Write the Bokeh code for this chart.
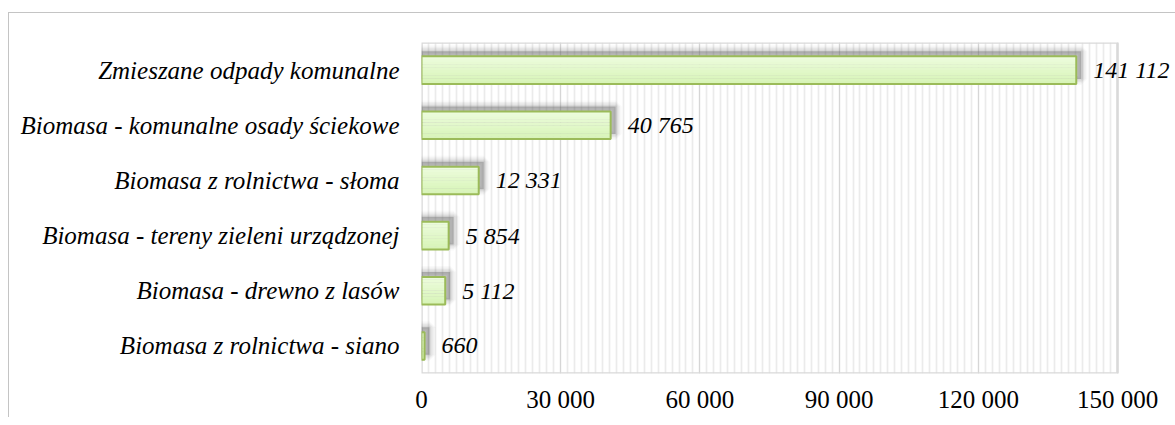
from bokeh.plotting import figure
from bokeh.models import ColumnDataSource, FactorRange, Range1d, SingleIntervalTicker, LabelSet
from bokeh.transform import dodge
from bokeh.embed import file_html
from bokeh.resources import INLINE

# ---- data ----
categories = [
    "Zmieszane odpady komunalne",
    "Biomasa - komunalne osady ściekowe",
    "Biomasa z rolnictwa - słoma",
    "Biomasa - tereny zieleni urządzonej",
    "Biomasa - drewno z lasów",
    "Biomasa z rolnictwa - siano",
]
values = [141112, 40765, 12331, 5854, 5112, 660]
value_labels = ["141 112", "40 765", "12 331", "5 854", "5 112", "660"]
tick_values = [0, 30000, 60000, 90000, 120000, 150000]
tick_labels = ["0", "30 000", "60 000", "90 000", "120 000", "150 000"]

FONT = "Liberation Serif"
AX_MIN, AX_MAX = tick_values[0], tick_values[-1]
PLOT_W = 696          # pixel width of the 0..150 000 axis
FRAME_W = 754         # frame widened so end labels are not clipped
X_END = AX_MAX * FRAME_W / PLOT_W

src = ColumnDataSource(dict(cat=categories, val=values, lab=value_labels))

p = figure(
    frame_width=FRAME_W, frame_height=331,
    y_range=FactorRange(*reversed(categories)),
    x_range=Range1d(AX_MIN, X_END),
    output_backend="svg", toolbar_location=None,
    min_border_left=412, min_border_right=0, min_border_top=29, min_border_bottom=44,
)
p.styles = {"border-left": "1px solid #c4c4c4", "border-top": "1px solid #c4c4c4",
            "margin-top": "12px", "margin-left": "8px"}
p.background_fill_color = "white"
p.border_fill_color = "white"
p.outline_line_color = None

# axes
p.xaxis.ticker = SingleIntervalTicker(interval=30000, num_minor_ticks=20)
p.xaxis.bounds = (AX_MIN, AX_MAX)
p.xaxis.major_label_overrides = {v: l for v, l in zip(tick_values, tick_labels)}
for ax in (p.xaxis, p.yaxis):
    ax.axis_line_color = None
    ax.major_tick_line_color = None
    ax.minor_tick_line_color = None
    ax.major_label_text_font = FONT
    ax.major_label_text_font_size = "25px"
    ax.major_label_text_color = "black"
p.yaxis.major_label_text_font_style = "italic"
p.yaxis.major_label_standoff = 16
p.xaxis.major_label_standoff = 6

p.xgrid.bounds = (AX_MIN, AX_MAX)
p.xgrid.grid_line_color = "#d6d6d6"
p.xgrid.grid_line_width = 1
p.xgrid.minor_grid_line_color = "#ebebeb"
p.xgrid.minor_grid_line_width = 1.7
p.ygrid.grid_line_color = None

# plot-area border (0 .. 150 000 only), spanning first..last category band
box_src = ColumnDataSource(dict(l=[AX_MIN], r=[AX_MAX], t=[categories[0]], b=[categories[-1]]))
p.quad(left="l", right="r", top=dodge("t", 0.5, range=p.y_range),
       bottom=dodge("b", -0.5, range=p.y_range), source=box_src,
       fill_color=None, line_color="#d9d9d9", line_width=2.5)

BAR_H = 0.5

# shadow (offset up/right, blurred with stacked strokes)
sh_y = dodge("cat", 0.09, range=p.y_range)
sh_r = dodge("val", 1075, range=p.x_range)
for w, a in [(12, 0.035), (9, 0.05), (6, 0.07), (3, 0.09)]:
    p.hbar(y=sh_y, left=0, right=sh_r, height=BAR_H, source=src,
           fill_color=None, line_color="#555555", line_alpha=a, line_width=w)
p.hbar(y=sh_y, left=0, right=sh_r, height=BAR_H, source=src,
       fill_color="#666666", fill_alpha=0.4, line_color=None)

# gradient fill (top light -> bottom slightly deeper)
N = 10
top = (0xEC, 0xFC, 0xDC)
bot = (0xD8, 0xF4, 0xB8)
for i in range(N):
    t = i / (N - 1)
    c = "#%02x%02x%02x" % tuple(round(top[k] + (bot[k] - top[k]) * t) for k in range(3))
    off = BAR_H / 2 - (i + 0.5) * BAR_H / N
    p.hbar(y=dodge("cat", off, range=p.y_range), left=0, right="val",
           height=BAR_H / N * 1.08, source=src, fill_color=c, line_color=None)

# bar outline
p.hbar(y="cat", left=0, right="val", height=BAR_H, source=src,
       fill_color=None, line_color="#9bbb59", line_width=2)

labels = LabelSet(x="val", y="cat", text="lab", source=src, x_offset=17,
                  text_baseline="middle", text_font=FONT, text_font_style="italic",
                  text_font_size="24px", text_color="black")
p.add_layout(labels)

open("out.html", "w").write(file_html(p, INLINE))
